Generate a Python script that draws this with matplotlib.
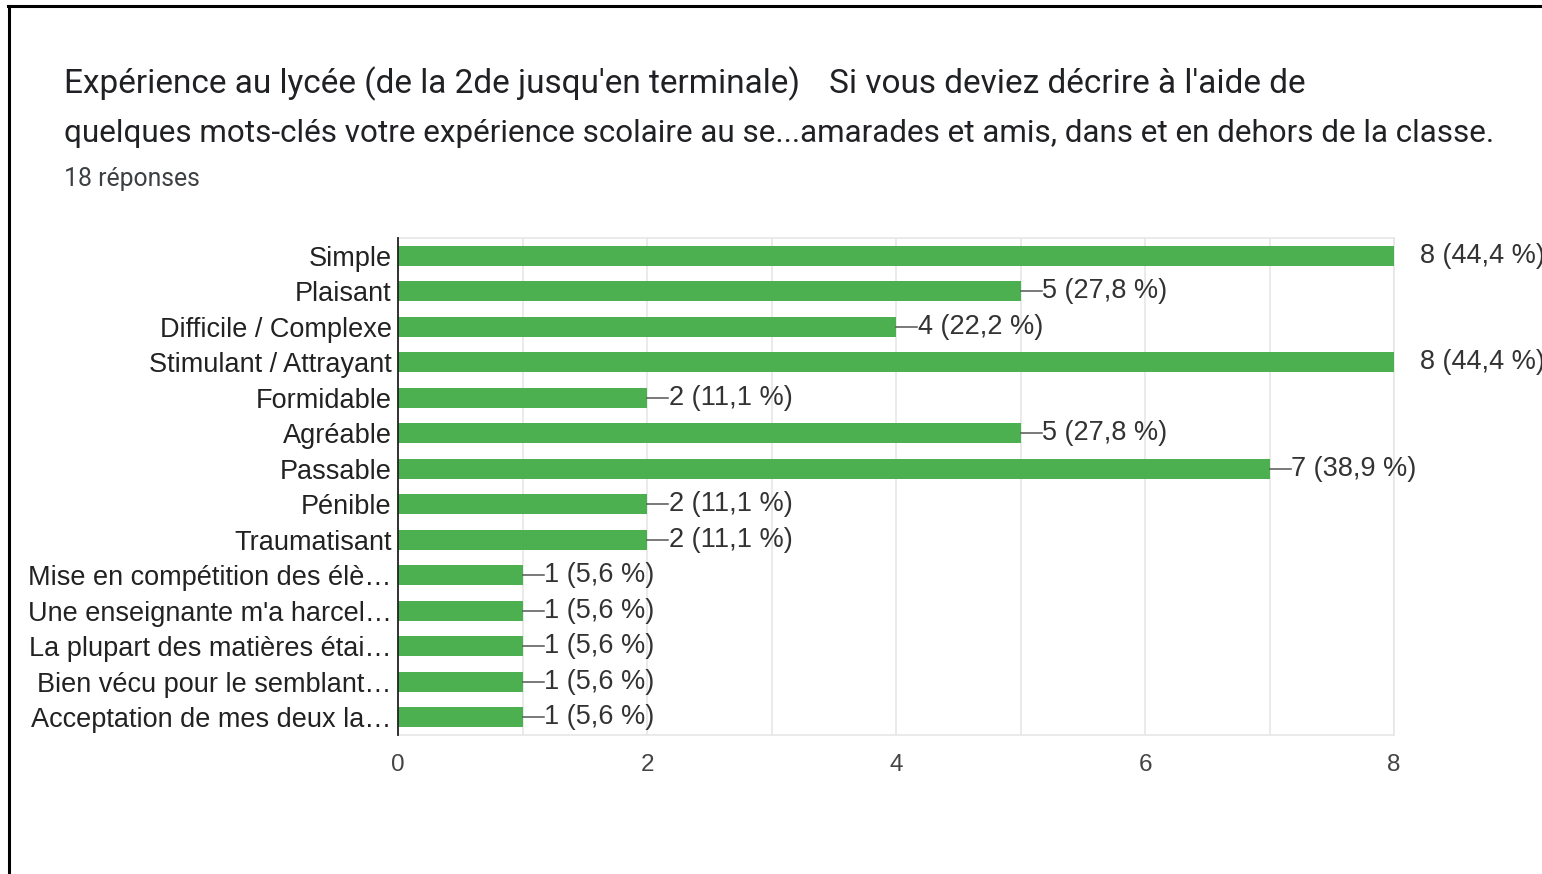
import matplotlib
matplotlib.use("Agg")
import matplotlib.pyplot as plt
from matplotlib.lines import Line2D
from matplotlib.ticker import MultipleLocator

categories = [
    "Simple",
    "Plaisant",
    "Difficile / Complexe",
    "Stimulant / Attrayant",
    "Formidable",
    "Agréable",
    "Passable",
    "Pénible",
    "Traumatisant",
    "Mise en compétition des élè…",
    "Une enseignante m'a harcel…",
    "La plupart des matières étai…",
    "Bien vécu pour le semblant…",
    "Acceptation de mes deux la…",
]
counts = [8, 5, 4, 8, 2, 5, 7, 2, 2, 1, 1, 1, 1, 1]
percents = ["44,4", "27,8", "22,2", "44,4", "11,1", "27,8", "38,9",
            "11,1", "11,1", "5,6", "5,6", "5,6", "5,6", "5,6"]
xticks = [0, 2, 4, 6, 8]
total = 18

title_part1 = "Expérience au lycée (de la 2de jusqu'en terminale)"
title_part2 = "Si vous deviez décrire à l'aide de"
title_line2 = "quelques mots-clés votre expérience scolaire au se...amarades et amis, dans et en dehors de la classe."
subtitle = f"{total} réponses"

W, H = 1542, 874
fig = plt.figure(figsize=(W / 100, H / 100), dpi=100)
fig.patch.set_facecolor("white")

# frame lines (screenshot border)
fig.add_artist(Line2D([8 / W, 1], [1 - 6 / H, 1 - 6 / H], color="black", lw=2.2))
fig.add_artist(Line2D([9 / W, 9 / W], [0, 1 - 6 / H], color="black", lw=2.2))

# titles
tfont = dict(family=["Roboto", "DejaVu Sans"], color="#202124")
fig.text(64 / W, 1 - 84 / H, title_part1, fontsize=24, va="center", ha="left", **tfont)
fig.text(829 / W, 1 - 84 / H, title_part2, fontsize=24, va="center", ha="left", **tfont)
fig.text(64 / W, 1 - 134 / H, title_line2, fontsize=22.6, va="center", ha="left", **tfont)
fig.text(64 / W, 1 - 179 / H, subtitle, fontsize=17.8, va="center", ha="left",
         family=["Roboto", "DejaVu Sans"], color="#3c4043")

ax = fig.add_axes([398 / W, 1 - 735 / H, (1394 - 398) / W, (735 - 238) / H])
n = len(categories)
ypos = list(range(n))
ax.barh(ypos, counts, height=0.57, color="#4caf50", zorder=3)
ax.set_ylim(n - 0.5, -0.5)
ax.set_xlim(0, max(xticks))

ax.xaxis.set_minor_locator(MultipleLocator(1))
ax.set_xticks(xticks)
ax.set_xticklabels([str(t) for t in xticks])
ax.grid(True, axis="x", which="both", color="#e6e6e6", lw=1.2, zorder=0)
ax.set_yticks(ypos)
ax.set_yticklabels(categories)

lab_font = ["Liberation Sans", "DejaVu Sans"]
for lbl in ax.get_yticklabels():
    lbl.set_family(lab_font)
    lbl.set_fontsize(19.5)
    lbl.set_color("#222222")
for lbl in ax.get_xticklabels():
    lbl.set_family(lab_font)
    lbl.set_fontsize(17.5)
    lbl.set_color("#444444")
ax.tick_params(axis="y", length=0, pad=4.5)
ax.tick_params(axis="x", which="both", length=0, pad=14)

for side in ["top", "right", "bottom"]:
    ax.spines[side].set_color("#e6e6e6")
    ax.spines[side].set_linewidth(1.2)
ax.spines["left"].set_color("#222222")
ax.spines["left"].set_linewidth(1.3)
ax.spines["left"].set_zorder(5)

vmax = max(counts)
for i, (c, p) in enumerate(zip(counts, percents)):
    label = f"{c} ({p} %)"
    if c == vmax:
        ax.text(c + 0.21, i, label, va="center", ha="left", fontsize=19.5,
                family=lab_font, color="#333333", clip_on=False)
    else:
        ax.plot([c, c + 0.17], [i, i], color="#555555", lw=1.1, zorder=4,
                clip_on=False)
        ax.text(c + 0.175, i, label, va="center", ha="left", fontsize=19.5,
                family=lab_font, color="#333333", clip_on=False)

fig.savefig("out.png", dpi=100, facecolor="white")
